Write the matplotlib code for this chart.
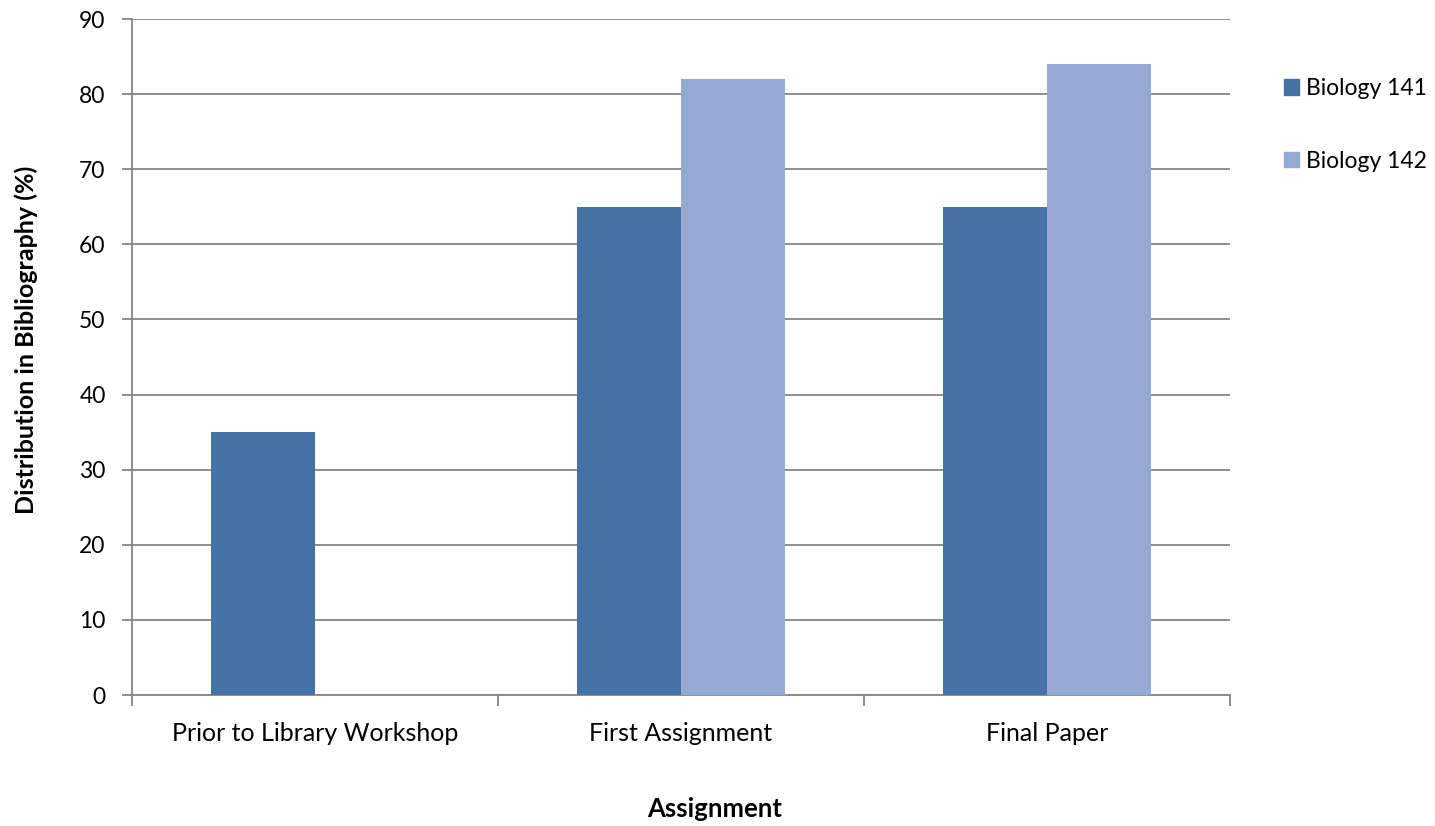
import matplotlib
matplotlib.use("Agg")
import matplotlib.pyplot as plt
import numpy as np
from matplotlib.patches import Patch

categories = ["Prior to Library Workshop", "First Assignment", "Final Paper"]
bio141 = [35, 65, 65]
bio142 = [0, 82, 84]
series_names = ["Biology 141", "Biology 142"]
yticks = [0, 10, 20, 30, 40, 50, 60, 70, 80, 90]

c1 = "#4573A7"
c2 = "#95A9D2"
grid_c = "#868686"

plt.rcParams['font.family'] = ['Lato', 'DejaVu Sans']

W, H = 1435, 826
fig = plt.figure(figsize=(W/100, H/100), dpi=100)
ax = fig.add_axes([132/W, 1 - 695/H, (1230-132)/W, (695-19)/H])

x = np.arange(len(categories))
w = 104/366
ax.bar(x - w/2, bio141, width=w, color=c1, zorder=3)
ax.bar(x + w/2, bio142, width=w, color=c2, zorder=3)

ax.set_xlim(-0.5, len(categories) - 0.5)
ax.set_ylim(0, 90)
ax.set_yticks(yticks)
ax.set_yticklabels([str(v) for v in yticks], fontsize=16.5)
ax.yaxis.grid(True, color=grid_c, linewidth=1.3, zorder=0)
ax.set_axisbelow(True)

ax.set_xticks(x)
ax.set_xticklabels(categories, fontsize=18)
ax.tick_params(axis='x', which='major', length=0, pad=19.5)
ax.set_xticks(np.arange(-0.5, len(categories)), minor=True)
ax.tick_params(axis='x', which='minor', length=8, width=1.3, color=grid_c)
ax.tick_params(axis='y', length=7, width=1.3, color=grid_c, pad=12)

for s in ['top', 'right']:
    ax.spines[s].set_visible(False)
for s in ['left', 'bottom']:
    ax.spines[s].set_color(grid_c)
    ax.spines[s].set_linewidth(1.3)

fig.text(715/W, 1 - 817/H, "Assignment", fontsize=18.5, fontweight='bold',
         ha='center', va='baseline')
fig.text(26/W, 1 - 340/H, "Distribution in Bibliography (%)", fontsize=18,
         fontweight='bold', rotation=90, ha='center', va='center')

handles = [Patch(color=c1), Patch(color=c2)]
fig.legend(handles, series_names, loc='upper left', bbox_to_anchor=(1284/W, 1 - 78/H),
           frameon=False, fontsize=16.5, handlelength=0.64, handleheight=0.64,
           handletextpad=0.33, labelspacing=2.25, borderpad=0, borderaxespad=0)

fig.savefig("out.png", dpi=100)
